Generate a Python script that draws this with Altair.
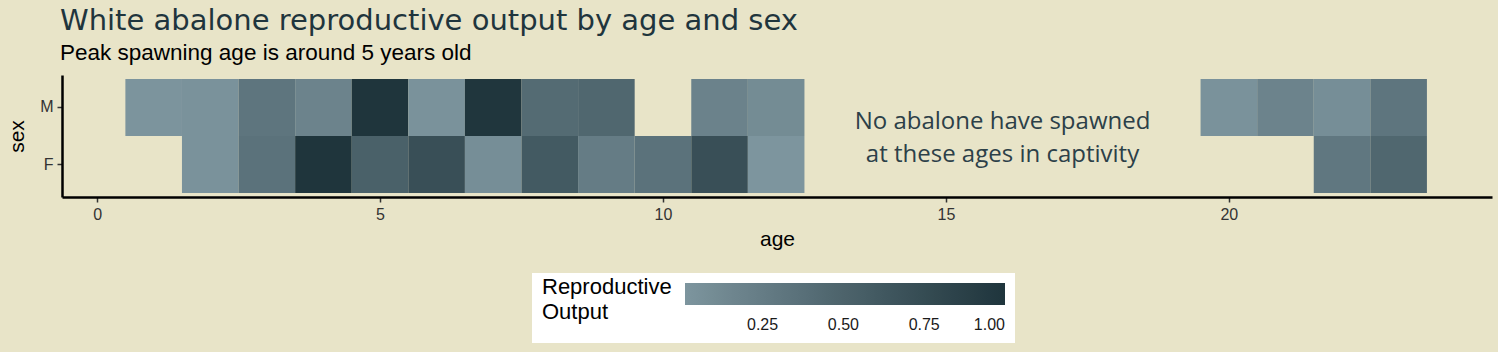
import altair as alt
import pandas as pd

# ---- data ----
ages_M = [1, 2, 3, 4, 5, 6, 7, 8, 9, 11, 12, 20, 21, 22, 23]
output_M = [0.02, 0.04, 0.32, 0.18, 1.00, 0.04, 0.99, 0.42, 0.46, 0.19, 0.10, 0.04, 0.18, 0.08, 0.32]
ages_F = [2, 3, 4, 5, 6, 7, 8, 9, 10, 11, 12, 22, 23]
output_F = [0.04, 0.35, 1.00, 0.53, 0.71, 0.08, 0.60, 0.25, 0.35, 0.71, 0.01, 0.30, 0.46]

sex_order = ["M", "F"]
x_ticks = [0, 5, 10, 15, 20]
legend_ticks = [0.25, 0.50, 0.75, 1.00]
note_lines = ["No abalone have spawned", "at these ages in captivity"]
note_age = [16]
legend_title = ["Reproductive", "Output"]

df = pd.DataFrame({
    "age": ages_M + ages_F,
    "sex": ["M"] * len(ages_M) + ["F"] * len(ages_F),
    "output": output_M + output_F,
})
note_df = pd.DataFrame({"age": note_age})

BG = "#e8e4c8"
W, H = 1430, 122

xscale = alt.Scale(domain=[-0.62, 24.65], nice=False, zero=False)

tiles = alt.Chart(df).transform_calculate(
    a0="datum.age - 0.5", a1="datum.age + 0.5"
).mark_rect().encode(
    x=alt.X("a0:Q", scale=xscale, title="age",
            axis=alt.Axis(values=x_ticks, grid=False, format="d")),
    x2="a1:Q",
    y=alt.Y("sex:N", sort=sex_order, title="sex",
            scale=alt.Scale(paddingInner=0, paddingOuter=0.07)),
    fill=alt.Fill("output:Q",
                  scale=alt.Scale(range=["#7d959e", "#1f353c"], interpolate="lab"),
                  legend=alt.Legend(
                      title=legend_title,
                      orient="none", direction="horizontal",
                      legendX=470, legendY=198,
                      titleOrient="left", titlePadding=13,
                      titleBaseline="top",
                      titleFont="Liberation Sans", titleFontSize=22,
                      titleFontWeight="normal", titleColor="black",
                      titleLineHeight=25,
                      gradientLength=320, gradientThickness=22,
                      values=legend_ticks, format=".2f",
                      labelFont="Liberation Sans", labelFontSize=16,
                      labelColor="#1a1a1a", labelAlign="center",
                      labelOffset=12,
                      fillColor="white", padding=10,
                  )),
)

note = alt.Chart(note_df).mark_text(
    font="Open Sans", fontSize=24, color="#2c4048", lineHeight=33,
    align="center", baseline="middle"
).encode(
    x=alt.X("age:Q", scale=xscale),
    y=alt.value(47),
    text=alt.value(note_lines),
)

chart = alt.layer(tiles, note).properties(
    width=W, height=H,
    background=BG,
    padding={"left": 62, "top": 75, "right": 6, "bottom": 155},
    autosize=alt.AutoSizeParams(type="none"),
    title=alt.Title(
        "White abalone reproductive output by age and sex",
        subtitle="Peak spawning age is around 5 years old",
        anchor="start", frame="group", dx=-2, offset=11,
        font="DejaVu Sans", fontSize=29, fontWeight="normal", color="#1f353d",
        subtitleFont="Liberation Sans", subtitleFontSize=22.5,
        subtitleColor="black", subtitlePadding=6,
    ),
).configure_view(stroke=None).configure_axis(
    domainColor="black", domainWidth=2.5,
    tickColor="#333333", tickSize=5, tickWidth=1.5,
    labelFont="Liberation Sans", labelFontSize=16, labelColor="#333333",
    titleFont="Liberation Sans", titleFontSize=21, titleFontWeight="normal",
    titleColor="black",
).configure_axisX(labelPadding=4, titlePadding=6).configure_axisY(
    labelPadding=4, titlePadding=12
)

chart.save("out.html", embed_options={"renderer": "svg", "actions": False})
